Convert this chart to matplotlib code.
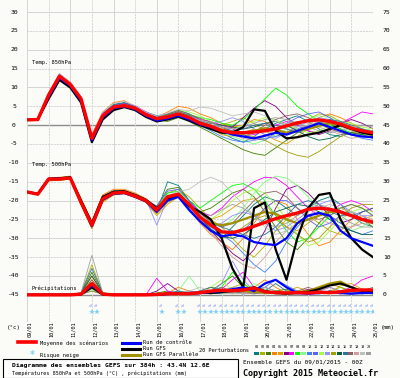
import matplotlib
matplotlib.use('Agg')
import matplotlib.pyplot as plt
from matplotlib.patches import Rectangle
from matplotlib.lines import Line2D

# time axis, 12h steps over 384h
hours = list(range(0, 385, 12))
day_labels = ['09/01', '10/01', '11/01', '12/01', '13/01', '14/01', '15/01', '16/01', '17/01',
              '18/01', '19/01', '20/01', '21/01', '22/01', '23/01', '24/01', '25/01']
left_ticks = list(range(30, -50, -5))
right_ticks = list(range(75, -5, -5))

pert_colors = ['#008080', '#b0b000', '#408000', '#ff8000', '#e0a000', '#800080', '#ff00ff', '#00ff00',
               '#80ff80', '#4080ff', '#6060ff', '#a0ff40', '#9090ff', '#a0a000', '#006040', '#3070a0',
               '#906060', '#d0a0a0', '#c0c0c0', '#a0a0a0']

# --- temperature 850 hPa
t850_mean = [1.4, 1.5, 8, 13, 10.8, 7, -3.5, 2.5, 4.8, 5.2, 4.5, 2.8, 1.7, 2.2, 3.0, 2.0, 0.5, -0.3, -1.5, -2,
             -2, -1.8, -1.5, -1, -0.2, 0.6, 1.2, 1.4, 1.0, 0.3, -0.8, -1.5, -2.0]
t850_ctrl = [1.4, 1.5, 7.5, 12.5, 10.5, 6.5, -4, 2, 4.5, 5, 4.2, 2.5, 1.2, 1.8, 2.5, 1.5, 0.2, -0.5, -1.5, -2.5,
             -3, -3.5, -2.8, -2, -2.5, -1.5, -0.5, 0.5, -0.5, -1.5, -2.5, -3, -3.2]
t850_gfs = [1.4, 1.5, 7, 12, 10, 6, -4.5, 1.5, 4, 4.8, 4, 2.2, 1, 1.5, 2.3, 1.2, 0, -1, -2, -2, -0.5, 4.2,
            3.8, -1.5, -3.5, -3.2, -2.5, -2, -1, 0, -1, -2, -2.5]
t850_para = [1.4, 1.5, 7.8, 12.8, 10.5, 6.8, -3.8, 2.2, 4.6, 5.1, 4.3, 2.6, 1.5, 2, 2.8, 1.8, 0.5, -0.2, -1.2,
             -1.8, -2, -1.5, -0.8, -1.2, -2, -1.5, -1, -0.2, 0.5, 0, -1, -1.8, -2.2]
t850_members = [
    [1.4, 1.6, 8.5, 13.2, 11, 7.2, -3, 3, 5.5, 6, 5, 3.5, 2.5, 3, 4, 3, 1.5, 0, -2, -3.5, -4.5, -3, -1, 0.5, 1.5, 2.5, 1, -1, -2.5, -3, -2, -1, -1.5],
    [1.4, 1.4, 7.8, 12.8, 10.5, 6.8, -4, 2, 4.2, 4.8, 4.2, 2.2, 1.2, 2.5, 3.5, 2.5, 1, 0.5, 0, 1, 2, 0.5, -1.5, -3, -2, 0, 1.5, 3, 2.5, 1, -0.5, -2, -3],
    [1.4, 1.5, 8, 13, 10.8, 7, -3.5, 2.8, 5, 5.5, 4.8, 3, 1.5, 1, 2, 1, -0.5, -2, -3.5, -5, -6.5, -7.5, -8, -6, -4, -2, -0.5, 1, 0.5, -1, -2.5, -3, -2.5],
    [1.4, 1.6, 8.2, 13.4, 11.5, 7.5, -2.5, 3.5, 6, 6.5, 5, 3, 2, 3.5, 5, 4.5, 3, 2, 0.5, -0.5, 0, 1.5, 1, -1, -2.5, -1.5, 0, 2, 3, 2, 0.5, -1, -2],
    [1.4, 1.5, 7.6, 12.6, 10.2, 6.5, -4.5, 1.8, 4.5, 5, 4.2, 2.5, 1.8, 2.8, 3.8, 2.2, 0.5, -1, -2.5, -3, -2, -1, -2.5, -4, -5, -3, -1, 0, 1, 0.5, -1.5, -2.5, -3],
    [1.4, 1.5, 8.1, 13.1, 11, 7, -3.2, 2.6, 4.8, 5.2, 4.5, 2.8, 1.5, 2, 2.8, 1.5, 0, -1, -1.5, -0.5, 2, 4.5, 6.5, 5, 2, 0, -1.5, -2.5, -1.5, 0.5, 1.5, 0.5, -1],
    [1.4, 1.6, 8.3, 13.6, 11.3, 7.3, -2.8, 3.2, 5.2, 5.8, 5.2, 3.5, 2.2, 2.5, 3, 2.5, 1.5, 1, 0, -1, -2, -2.5, -1.5, 0, 1, 0, -1.5, -2, -1, 0.5, 2, 3.5, 3],
    [1.4, 1.5, 7.9, 12.9, 10.6, 6.8, -3.8, 2.2, 4.6, 5, 4.3, 2.6, 1.2, 2, 3.2, 2.8, 2, 1.5, 0.5, 0, 1.5, 4, 7, 9.8, 8, 5, 3, 1, 0, -1, -2, -2.5, -3],
    [1.4, 1.5, 8, 13, 10.9, 7.1, -3.4, 2.4, 4.9, 5.3, 4.4, 2.7, 1.8, 2.4, 3.4, 2.4, 1, -0.5, -2, -3, -4, -5, -4, -2.5, -1, 0.5, 1.5, 2.5, 2, 1, 0, -1, -1.5],
    [1.4, 1.5, 7.7, 12.7, 10.4, 6.6, -4.2, 1.9, 4.3, 4.9, 4, 2.2, 1, 1.5, 2.5, 1.5, 0, -1.5, -3, -4, -4.5, -4, -3.5, -3, -2, -1, 0, 0.5, -0.5, -1.5, -2.5, -3.5, -4],
    [1.4, 1.6, 8.2, 13.3, 11.1, 7.2, -3.1, 2.9, 5.3, 5.6, 4.7, 3.1, 2, 2.3, 3, 1.8, 0.5, 0, -0.5, -1.5, -2.5, -3.5, -4, -2, 0.5, 2, 3, 3.5, 2, 0, -1, -2, -2.5],
    [1.4, 1.5, 8, 12.9, 10.7, 6.9, -3.6, 2.3, 4.7, 5.1, 4.4, 2.8, 1.6, 2.6, 4, 3.5, 2.5, 1, -0.5, -1, 0, 1, 2, 1.5, 0, -1, -2, -1.5, 0, 1, 0.5, -0.5, -1],
    [1.4, 1.4, 7.8, 12.6, 10.4, 6.6, -4.3, 1.7, 4.2, 4.8, 4.1, 2.4, 1.4, 2, 2.6, 1.6, 0.8, 0.5, 1, 2, 1, -1, -2.5, -3.5, -2, -0.5, 1, 2, 1.5, 0.5, -1, -2, -2.5],
    [1.4, 1.5, 8.1, 13.2, 11, 7.1, -3.3, 2.7, 5, 5.4, 4.6, 2.9, 1.7, 2.1, 2.7, 1.7, 0.5, -0.5, -1.5, -2, -2.5, -3, -4, -5.5, -7, -8, -8.5, -7, -5, -3, -2, -1.5, -2],
    [1.4, 1.5, 7.9, 12.8, 10.6, 6.8, -3.9, 2.1, 4.5, 5, 4.3, 2.6, 1.5, 2.2, 3.1, 2.1, 1, 0.5, 0, -0.5, -1, -0.5, 0.5, 1, 0, -1.5, -3, -4, -3.5, -2.5, -2, -2.5, -3.5],
    [1.4, 1.6, 8.3, 13.5, 11.2, 7.4, -2.9, 3.1, 5.4, 5.9, 5, 3.2, 2.1, 2.7, 3.6, 2.6, 1.2, 0, -1, -1.5, -1, 0, 0.5, 0, -1, -2, -1, 0.5, 1.5, 1, 0, -1, -2],
    [1.4, 1.5, 8, 13, 10.8, 7, -3.5, 2.5, 4.8, 5.2, 4.5, 2.9, 1.9, 2.9, 3.9, 2.9, 1.8, 0.8, -0.5, -2, -3, -2, 0, 1.5, 2.5, 3, 2, 0.5, -1, -2, -2.5, -2, -1.5],
    [1.4, 1.5, 7.9, 12.9, 10.6, 6.8, -3.7, 2.3, 4.6, 5.1, 4.4, 2.7, 1.6, 2.4, 3.2, 2.2, 1.2, 0.2, -1, -2.5, -3.5, -4, -3, -1, 0.5, 1, 0.5, -0.5, -1.5, -2.5, -3.5, -3, -2.5],
    [1.4, 1.6, 8.4, 13.7, 11.4, 7.6, -2.7, 3.4, 5.8, 6.3, 5.2, 3.4, 2.4, 3.2, 4.2, 3.8, 4.8, 4.5, 3.5, 2.5, 3, 3.5, 2.5, 1, 0, -0.5, 0, 1, 0.5, -0.5, -1.5, -2, -2.5],
    [1.4, 1.5, 8, 13, 10.7, 6.9, -3.6, 2.4, 4.7, 5.1, 4.4, 2.7, 1.6, 2.3, 3.1, 2.3, 1.4, 0.6, -0.5, -1, -0.5, 0.5, 1.5, 2, 1.5, 0.5, -0.5, -1.5, -2, -1.5, -0.5, 0, -0.5],
]

# --- temperature 500 hPa
t500_mean = [-17.7, -18.3, -14.3, -14.3, -14, -20.5, -26.5, -19.5, -18, -17.8, -18.8, -20, -22.5, -19, -18.3, -21,
             -24.4, -26.5, -28.3, -28.5, -27.8, -26.8, -25.8, -24.8, -24, -23.3, -22.3, -22, -22.3, -23, -24, -25, -25.7]
t500_ctrl = [-17.7, -18.3, -14.3, -14.2, -14, -20.5, -26.8, -19.8, -18.2, -18, -19, -20.2, -23, -20, -19, -22.5,
             -25.5, -28, -29.5, -29, -29.5, -31, -31.5, -31.8, -30, -26, -24, -23.3, -24, -28, -30, -31, -32]
t500_gfs = [-17.7, -18.2, -14.2, -14.1, -13.8, -20, -26, -19, -17.6, -17.5, -18.5, -19.8, -22, -19.5, -18.5, -21.5,
            -23, -25, -30, -38, -43, -22, -20.5, -33, -41, -30, -22, -18.5, -18, -25, -30, -33, -35]
t500_para = [-17.7, -18.3, -14.4, -14.3, -14.1, -20.6, -26.6, -19.6, -18.1, -17.9, -18.9, -20.1, -22.6, -19.1, -18.4,
             -21.1, -24.5, -26, -26.5, -26, -25, -24, -23, -23.5, -25, -26, -25, -24, -23, -23, -24, -25, -26]
t500_members = [
    [-17.7, -18.2, -14.5, -14.2, -13.8, -20, -26, -19, -17.5, -17.5, -18.5, -20, -23, -15, -16, -20, -25, -28, -30, -27, -24, -21, -19, -20, -22, -24, -22, -20, -19, -21, -24, -26, -27],
    [-17.7, -18.4, -14.8, -14.6, -14.3, -21, -27, -20, -18.5, -18, -19, -20.5, -22, -18, -17, -19, -22, -25, -27, -30, -33, -35, -32, -28, -25, -23, -24, -26, -28, -29, -27, -25, -24],
    [-17.7, -18.3, -14.2, -14.4, -14.1, -20.3, -26.2, -19.2, -17.8, -17.6, -18.6, -19.8, -21.5, -17, -16.5, -20, -23, -22, -20, -18, -17, -19, -23, -27, -31, -33, -30, -26, -23, -22, -23, -25, -27],
    [-17.7, -18.1, -14, -13.8, -13.5, -19.5, -25.5, -18.5, -17, -17, -18, -19.5, -22, -20, -19, -22, -26, -29, -31, -33, -30, -26, -22, -20, -21, -25, -29, -32, -31, -28, -25, -24, -25],
    [-17.7, -18.4, -14.6, -14.5, -14.2, -21, -27.5, -20.5, -18.5, -18.2, -19.2, -20.5, -24, -21, -19, -21, -23, -25, -24, -22, -20, -19.5, -21, -24, -27, -28, -26, -24, -22.5, -22, -23, -25, -26],
    [-17.7, -18.3, -14.4, -14.3, -14, -20.5, -26.4, -19.4, -18, -17.8, -18.7, -20, -22.5, -19, -18, -21, -25, -28, -31, -34, -36, -33, -28, -22, -17, -16, -18, -21, -24, -26, -25, -23, -22],
    [-17.7, -18.2, -14.3, -14.1, -13.9, -20.2, -26.3, -19.3, -17.7, -17.7, -18.5, -19.7, -22, -19.5, -18.5, -20.5, -23, -24, -22, -19, -17, -15, -13.8, -14, -16, -19, -22, -24, -23, -21, -20, -21, -23],
    [-17.7, -18.3, -14.3, -14.4, -14.1, -20.6, -26.6, -19.6, -18.1, -17.9, -18.9, -20.2, -22, -18, -17.5, -20, -22, -20, -18, -16, -15.5, -17, -20, -24, -28, -31, -30, -27, -24, -22, -21, -22, -24],
    [-17.7, -18.4, -14.5, -14.5, -14.2, -20.8, -27, -20, -18.3, -18, -19, -20.5, -23, -20, -18.5, -21, -24, -26, -27, -25, -22, -18, -15, -13.5, -14, -16, -19, -22, -25, -27, -28, -27, -25],
    [-17.7, -18.2, -14.2, -14.2, -13.9, -20.3, -26.3, -19.3, -17.8, -17.6, -18.6, -19.9, -22.2, -18.8, -18, -21, -24, -27, -29, -31, -34, -37, -39, -36, -31, -27, -24, -23, -24, -26, -28, -29, -28],
    [-17.7, -18.3, -14.3, -14.3, -14, -20.5, -26.5, -19.5, -18, -17.8, -18.8, -20, -21.5, -17.5, -17, -20, -23, -26, -28, -29, -28, -25, -22, -20, -20, -22, -25, -27, -26, -24, -23, -24, -26],
    [-17.7, -18.3, -14.4, -14.4, -14.1, -20.6, -26.7, -19.7, -18.2, -17.9, -18.9, -20.1, -22.6, -19.2, -18.2, -21.2, -24, -25, -23, -20, -18, -17, -18, -21, -25, -29, -32, -31, -28, -25, -23, -22, -23],
    [-17.7, -18.2, -14.1, -14, -13.7, -20, -26, -19, -17.6, -17.5, -18.4, -19.6, -26.5, -19.5, -19, -22, -25, -27, -26, -24, -23, -24, -26, -28, -27, -25, -23, -21, -20, -21, -23, -24, -24],
    [-17.7, -18.4, -14.6, -14.6, -14.3, -20.9, -27.2, -20.2, -18.4, -18.1, -19.1, -20.4, -23.5, -20.5, -19, -21.5, -25, -28, -30, -29, -27, -25, -24, -25, -27, -29, -31, -30, -27, -24, -22, -21, -21],
    [-17.7, -18.3, -14.3, -14.3, -14, -20.4, -26.4, -19.4, -17.9, -17.7, -18.7, -20, -22.4, -19.1, -18.4, -21, -24.5, -27.5, -29.5, -30, -29, -27, -25, -23, -22, -21, -21.5, -23, -25, -27, -28, -29, -29],
    [-17.7, -18.2, -14.2, -14.1, -13.8, -20.1, -26.1, -19.1, -17.7, -17.6, -18.5, -19.8, -22.3, -19.3, -18.6, -21.3, -24.2, -26, -27, -28, -29, -30, -29, -27, -24, -21, -20, -21, -23, -24, -24, -23, -22],
    [-17.7, -18.4, -14.5, -14.4, -14.2, -20.7, -26.8, -19.8, -18.2, -18, -19, -20.3, -22.8, -19.4, -18.3, -20.8, -23.5, -25.5, -27, -26, -23, -20, -18, -17.5, -19, -22, -24, -25, -24, -22, -21, -22, -24],
    [-17.7, -18.3, -14.4, -14.3, -14, -20.5, -26.5, -19.5, -18, -17.9, -18.8, -20.2, -22.7, -19.5, -18.7, -21.5, -25, -28.5, -32, -35, -37, -38, -35, -31, -28, -26, -25, -25, -26, -27, -27, -26, -26],
    [-17.7, -18.2, -14.2, -14.2, -13.9, -20.2, -26.2, -19.2, -17.8, -17.6, -18.6, -19.9, -22.1, -18.6, -17.6, -17, -15, -13.8, -15, -18, -21, -24, -27, -29, -28, -26, -24, -22, -21, -22, -23, -24, -25],
    [-17.7, -18.3, -14.3, -14.3, -14, -20.5, -26.5, -19.5, -18, -17.8, -18.8, -20, -22.5, -19, -18.3, -21, -23.5, -24, -22.5, -21, -22, -24, -26, -27, -26, -24, -22, -21, -22, -24, -26, -27, -27],
]

# --- precipitation (mm), drawn on the right axis (0 mm = -45 on the left axis)
pr_mean = [0, 0, 0, 0, 0, 0.2, 3.0, 0.2, 0, 0, 0, 0, 0.1, 0.3, 0.3, 0.3, 0.6, 1.0, 1.2, 1.1, 1.3, 1.8, 0.8, 0.6,
           0.5, 0.6, 0.5, 0.7, 0.6, 0.8, 1.2, 1.3, 1.3]
pr_ctrl = [0, 0, 0, 0, 0, 0.2, 2.5, 0.2, 0, 0, 0, 0, 0, 0.2, 0.5, 0.3, 0.5, 0.8, 1, 1.5, 2, 1, 3, 4, 2, 0.5, 0.3,
           0.5, 0.8, 0.5, 0.3, 0.5, 0.5]
pr_gfs = [0, 0, 0, 0, 0, 0.1, 2, 0.1, 0, 0, 0, 0, 0, 0.3, 0.3, 0.3, 0.5, 0.5, 0.8, 1, 1.5, 2, 1, 0.5, 0.3, 0.5,
          0.8, 1.5, 2.5, 3, 2, 1, 0.8]
pr_para = [0, 0, 0, 0, 0, 0.2, 2.8, 0.2, 0, 0, 0, 0, 0, 0.2, 0.4, 0.3, 0.6, 0.8, 1, 1.2, 1, 0.8, 0.6, 0.5, 0.5,
           0.8, 1, 2, 3, 3.5, 2, 1, 0.8]
pr_members = [
    [0, 0, 0, 0, 0, 0.3, 2, 0.3, 0, 0, 0, 0, 0.2, 0.5, 0.3, 0.5, 1, 2, 1.5, 0.5, 0.3, 1, 2, 1, 0.5, 0.3, 0.5, 1, 0.5, 0.3, 0.5, 1, 0.8],
    [0, 0, 0, 0, 0, 0.5, 8, 0.5, 0, 0, 0, 0, 0, 0.3, 0.5, 1, 0.5, 0.3, 1, 2, 3, 1, 0.5, 0.3, 0.5, 1, 0.5, 0.3, 1, 2, 1, 0.5, 0.3],
    [0, 0, 0, 0, 0, 0.4, 6, 0.4, 0, 0, 0, 0, 0.5, 1, 0.3, 0.2, 0.5, 1, 3, 5, 2, 0.5, 0.3, 1, 1.5, 0.5, 0.3, 0.5, 1, 0.5, 0.3, 0.5, 1],
    [0, 0, 0, 0, 0, 0.3, 5, 0.3, 0, 0, 0, 0, 0.3, 0.5, 2, 1, 0.5, 0.3, 0.5, 1, 0.5, 2, 4, 2, 0.5, 0.3, 0.5, 1, 2, 1, 0.5, 1, 1.5],
    [0, 0, 0, 0, 0, 0.2, 4, 0.2, 0, 0, 0, 0, 0.2, 0.3, 0.5, 0.3, 1, 2, 1, 0.5, 1, 0.5, 0.3, 0.5, 1, 2, 1, 0.5, 0.3, 2.5, 3, 1.5, 1],
    [0, 0, 0, 0, 0, 0.3, 3, 0.3, 0, 0, 0, 0, 1, 3, 1, 0.5, 0.3, 0.5, 1, 0.5, 0.3, 0.5, 1, 0.5, 0.3, 0.5, 1.5, 1, 0.5, 0.3, 0.5, 0.3, 0.5],
    [0, 0, 0, 0, 0, 0.3, 3, 0.3, 0, 0, 0, 0, 4.4, 1, 0.5, 0.3, 0.5, 1, 1.5, 4, 6, 2, 0.5, 0.3, 0.5, 1, 0.5, 0.3, 0.5, 1, 2, 4, 5],
    [0, 0, 0, 0, 0, 0.2, 2.5, 0.2, 0, 0, 0, 0, 0.3, 0.5, 0.3, 0.2, 0.5, 1, 2, 6, 3, 1, 0.5, 0.3, 0.5, 0.3, 0.5, 1, 0.5, 0.3, 0.5, 0.5, 0.3],
    [0, 0, 0, 0, 0, 0.3, 2, 0.3, 0, 0, 0, 0, 0.2, 0.3, 1, 5, 1, 0.5, 0.3, 0.5, 1, 3, 1.5, 0.5, 0.3, 0.5, 1, 0.5, 0.3, 0.5, 1, 0.5, 0.3],
    [0, 0, 0, 0, 0, 0.2, 2, 0.2, 0, 0, 0, 0, 0.3, 0.5, 0.3, 0.5, 1, 0.5, 0.3, 1, 0.5, 1, 2, 4, 2.5, 1, 0.5, 0.3, 0.5, 1, 0.5, 0.3, 0.5],
    [0, 0, 0, 0, 0, 0.2, 1.5, 0.2, 0, 0, 0, 0, 0.2, 0.3, 0.5, 1, 0.5, 0.3, 0.5, 1, 2, 1, 0.5, 1, 0.5, 0.3, 0.5, 0.3, 1, 0.5, 0.3, 1, 0.5],
    [0, 0, 0, 0, 0, 0.2, 1.5, 0.2, 0, 0, 0, 0, 0.3, 0.5, 1, 0.5, 0.3, 2, 4, 1, 0.5, 0.3, 0.5, 1, 0.5, 0.3, 0.5, 1, 0.5, 2, 1, 0.5, 0.3],
    [0, 0, 0, 0, 0, 0.2, 1, 0.2, 0, 0, 0, 0, 0.2, 0.3, 0.3, 0.5, 1, 0.5, 3, 9, 4, 1, 0.5, 0.3, 0.5, 1, 0.5, 1, 2, 1, 0.5, 0.3, 0.5],
    [0, 0, 0, 0, 0, 0.2, 1, 0.2, 0, 0, 0, 0, 0.2, 0.3, 0.5, 0.3, 0.5, 1, 0.5, 0.3, 1, 0.5, 1, 0.5, 0.3, 0.5, 1, 2, 3, 2, 1, 0.5, 0.3],
    [0, 0, 0, 0, 0, 0.5, 5, 0.5, 0, 0, 0, 0, 0.3, 0.5, 0.3, 0.3, 0.5, 0.3, 0.5, 1, 0.5, 0.3, 0.5, 1, 0.5, 0.3, 0.5, 0.3, 0.5, 1, 0.5, 0.3, 0.5],
    [0, 0, 0, 0, 0, 0.6, 7, 0.6, 0, 0, 0, 0, 0.2, 0.5, 1, 0.5, 1, 2, 1, 0.5, 0.3, 0.5, 1, 3, 1, 0.5, 0.3, 0.5, 1, 0.5, 0.3, 0.5, 1],
    [0, 0, 0, 0, 0, 0.4, 4, 0.4, 0, 0, 0, 0, 0.3, 0.3, 0.5, 0.3, 0.5, 1, 2, 1, 0.5, 0.3, 0.5, 0.3, 0.5, 1, 2, 1, 0.5, 0.3, 0.5, 1, 2],
    [0, 0, 0, 0, 0, 0.3, 3, 0.3, 0, 0, 0, 0, 0.2, 0.5, 0.3, 0.5, 0.3, 0.5, 1, 0.5, 0.3, 0.5, 2, 1, 0.5, 0.3, 0.5, 1, 0.5, 0.3, 1, 0.5, 0.3],
    [0, 0, 0, 0, 0, 0.2, 2, 0.2, 0, 0, 0, 0, 0.2, 0.3, 0.5, 1, 2, 1, 0.5, 0.3, 0.5, 1, 0.5, 0.3, 0.5, 1, 0.5, 0.3, 0.5, 1, 0.5, 0.3, 0.5],
    [0, 0, 0, 0, 0, 0.6, 10.5, 0.6, 0, 0, 0, 0, 0.2, 0.3, 0.3, 0.5, 0.3, 0.5, 1, 2, 1, 0.5, 0.3, 0.5, 1, 0.5, 0.3, 0.5, 1, 0.5, 0.3, 0.5, 0.3],
]

snow_hours = [72, 78, 150, 168, 174] + list(range(192, 385, 6))

W, H = 400, 378
MONO = 'DejaVu Sans Mono'
BG = '#fbfbf8'


def fx(x):
    return x / W


def fy(y):
    return 1 - y / H


fig = plt.figure(figsize=(W / 100, H / 100), dpi=100, facecolor=BG)
ax = fig.add_axes([fx(27), fy(322), 346 / W, 322 / H])
ax.set_facecolor(BG)
ax.set_xlim(0, 384)
ax.set_ylim(-52.2, 33.2)
for s in ax.spines.values():
    s.set_visible(False)
ax.set_xticks([])
ax.set_yticks([])

# grid
for v in left_ticks:
    if v in (0, -45):
        ax.axhline(v, color='#8c8c8c', lw=1.0, zorder=1)
    else:
        ax.axhline(v, color='#d4d4d4', lw=0.7, ls='-' if v % 10 == 0 else (0, (2, 1)), zorder=1)
for i in range(len(day_labels)):
    ax.axvline(i * 24, color='#d4d4d4', lw=0.7, ls='-' if i % 2 == 0 else (0, (2, 1)), zorder=1)

# perturbations
for i in range(20):
    c = pert_colors[i]
    ax.plot(hours, t850_members[i], color=c, lw=0.6, zorder=2)
    ax.plot(hours, t500_members[i], color=c, lw=0.6, zorder=2)
    ax.plot(hours, [v - 45 for v in pr_members[i]], color=c, lw=0.6, zorder=2)

# runs
for series, col, lw, z in [((t850_para, t500_para, pr_para), '#a09000', 1.6, 3),
                           ((t850_gfs, t500_gfs, pr_gfs), 'black', 1.6, 4),
                           ((t850_ctrl, t500_ctrl, pr_ctrl), '#0000ff', 1.6, 5),
                           ((t850_mean, t500_mean, pr_mean), '#ff0000', 2.4, 6)]:
    ax.plot(hours, series[0], color=col, lw=lw, zorder=z)
    ax.plot(hours, series[1], color=col, lw=lw, zorder=z)
    ax.plot(hours, [v - 45 for v in series[2]], color=col, lw=lw, zorder=z)

# snow risk icons
for h in snow_hours:
    ax.text(h, -47.6, '%', color='#3050ff', fontsize=3.2, ha='center', va='center', rotation=90, family=MONO, zorder=7)
    ax.plot(h, -49.6, marker='*', color='#80d0f0', ms=4, mew=0, zorder=7)

ax.text(5, 16.5, 'Temp. 850hPa', fontsize=3.9, family=MONO, va='center', zorder=8)
ax.text(5, -10.5, 'Temp. 500hPa', fontsize=3.9, family=MONO, va='center', zorder=8)
ax.text(5, -43.3, 'Précipitations', fontsize=3.9, family=MONO, va='center', zorder=8)

# tick labels
for v in left_ticks:
    fig.text(fx(14), fy(12 + (30 - v) * 3.77), str(v), fontsize=4.6, family=MONO, ha='center', va='center')
for v in right_ticks:
    fig.text(fx(383), fy(12 + (75 - v) * 3.77), str(v), fontsize=4.6, family=MONO, ha='left', va='center')
fig.text(fx(14), fy(328), '(°c)', fontsize=4.2, family=MONO, ha='center', va='center')
fig.text(fx(388), fy(328), '(mm)', fontsize=4.2, family=MONO, ha='center', va='center')
for i, lab in enumerate(day_labels):
    fig.text(fx(27 + i * 21.625 + 3), fy(321.5), lab, fontsize=3.8, family=MONO, rotation=90,
             ha='center', va='top')

# legend
def leg_line(x0, x1, y, col, lw):
    fig.add_artist(Line2D([fx(x0), fx(x1)], [fy(y), fy(y)], color=col, lw=lw))


leg_line(18, 36, 342, '#ff0000', 2.6)
fig.text(fx(40), fy(343), 'Moyenne des scénarios', fontsize=3.9, family=MONO, va='center')
fig.text(fx(32), fy(355), '*', fontsize=7, color='#80d0f0', ha='center', va='center', weight='bold')
fig.text(fx(40), fy(356), 'Risque neige', fontsize=3.9, family=MONO, va='center')
leg_line(122, 140, 343, '#0000ff', 2.2)
leg_line(122, 140, 349, 'black', 2.2)
leg_line(122, 140, 355, '#a09000', 2.2)
fig.text(fx(143), fy(343), 'Run de contrôle', fontsize=3.9, family=MONO, va='center')
fig.text(fx(143), fy(349), 'Run GFS', fontsize=3.9, family=MONO, va='center')
fig.text(fx(143), fy(355), 'Run GFS Parallèle', fontsize=3.9, family=MONO, va='center')
fig.text(fx(199), fy(351), '20 Perturbations', fontsize=3.8, family=MONO, va='center')
for i, c in enumerate(pert_colors):
    x0 = 254 + i * 5.9
    fig.text(fx(x0 + 2.5), fy(347), '%02d' % (i + 1), fontsize=2.6, family=MONO, ha='center', va='center')
    fig.add_artist(Rectangle((fx(x0), fy(355)), 5 / W, 3 / H, facecolor=c, edgecolor='none'))

# title box
fig.add_artist(Rectangle((fx(3), fy(378)), 235 / W, 19 / H, facecolor='white', edgecolor='black', lw=0.8))
fig.text(fx(12), fy(365), 'Diagramme des ensembles GEFS sur 384h : 43.4N 12.6E', fontsize=4.6,
         family=MONO, weight='bold', va='center')
fig.text(fx(12), fy(373), 'Températures 850hPa et 500hPa (°C) , précipitations (mm)', fontsize=3.7,
         family=MONO, va='center')
fig.text(fx(243), fy(362), 'Ensemble GEFS du 09/01/2015 - 00Z', fontsize=4.3, family=MONO, va='center')
fig.text(fx(243), fy(373), 'Copyright 2015 Meteociel.fr', fontsize=6.0, family=MONO, weight='bold', va='center')

fig.savefig('out.png', dpi=100, facecolor=BG)
